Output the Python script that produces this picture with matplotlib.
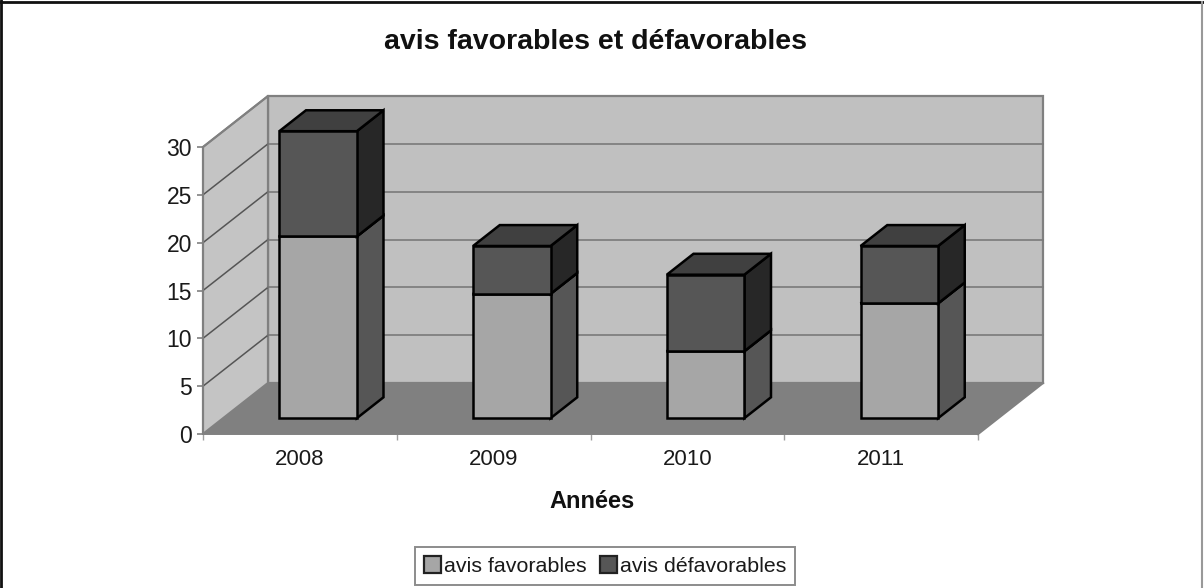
import matplotlib
matplotlib.use("Agg")
from matplotlib import pyplot as plt
from matplotlib.patches import Polygon, Patch

plt.rcParams['font.family'] = ['Liberation Sans', 'DejaVu Sans']

annees = ['2008', '2009', '2010', '2011']
favorables = [19, 13, 7, 12]
defavorables = [11, 5, 8, 6]
graduations = [0, 5, 10, 15, 20, 25, 30]

# pseudo 3D: a point (x, y, d) is shifted up and right with depth d (0 to 1)
decalX = 0.3355
decalY = 5.33
largeur = 0.40
profAvant = 0.31
profArriere = 0.72
ymax = 30
ncat = len(annees)

gris = '#808080'
coulFav = '#a6a6a6'
coulDef = '#565656'
coulDefHaut = '#404040'
coulDefCote = '#272727'
coulFavCote = '#565656'
noirTexte = '#1a1a1a'


def proj(x, y, d):
    return (x + d*decalX, y + d*decalY)


def face(ax, pts, couleur, bord, lw, z):
    ax.add_patch(Polygon([proj(*p) for p in pts], closed=True, facecolor=couleur,
                         edgecolor=bord, linewidth=lw, zorder=z, clip_on=False,
                         joinstyle='miter'))


def bloc(ax, x0, x1, y0, y1, avant, cote, z):
    # front, right side and top of one stacked block
    a, b = profAvant, profArriere
    face(ax, [(x1, y0, a), (x1, y0, b), (x1, y1, b), (x1, y1, a)], cote, 'black', 1.8, z)
    face(ax, [(x0, y1, a), (x1, y1, a), (x1, y1, b), (x0, y1, b)], coulDefHaut, 'black', 1.8, z)
    face(ax, [(x0, y0, a), (x1, y0, a), (x1, y1, a), (x0, y1, a)], avant, 'black', 1.8, z+1)


fig = plt.figure(figsize=(12.04, 5.88), dpi=100)
W, H = 1204.0, 588.0
ax = fig.add_axes([203/W, 1-434/H, 775/W, 287/H])
ax.set_xlim(0, ncat)
ax.set_ylim(0, ymax)
ax.patch.set_visible(False)

# floor, back wall, side wall
face(ax, [(0, 0, 0), (ncat, 0, 0), (ncat, 0, 1), (0, 0, 1)], gris, 'none', 0, 1)
face(ax, [(0, 0, 1), (ncat, 0, 1), (ncat, ymax, 1), (0, ymax, 1)], '#c0c0c0', gris, 1.6, 2)
face(ax, [(0, 0, 0), (0, 0, 1), (0, ymax, 1), (0, ymax, 0)], '#c4c4c4', gris, 1.6, 2)
ax.plot(*zip(proj(ncat, 0, 0), proj(ncat, 0, 1)), color=gris, lw=1.6, zorder=2, clip_on=False)

for g in graduations[1:-1]:
    ax.plot(*zip(proj(0, g, 0), proj(0, g, 1)), color='#555555', lw=1.1, zorder=3, clip_on=False)
    ax.plot(*zip(proj(0, g, 1), proj(ncat, g, 1)), color='#7a7a7a', lw=1.2, zorder=3, clip_on=False)
ax.plot(*zip(proj(0, ymax, 0), proj(0, ymax, 1)), color=gris, lw=1.3, zorder=3, clip_on=False)

for i in range(ncat):
    x0 = i + 0.5 - largeur/2 - 0.01
    x1 = x0 + largeur
    bloc(ax, x0, x1, 0, favorables[i], coulFav, coulFavCote, 10)
    bloc(ax, x0, x1, favorables[i], favorables[i] + defavorables[i], coulDef, coulDefCote, 12)

for cote in ['top', 'right']:
    ax.spines[cote].set_visible(False)
for cote in ['left', 'bottom']:
    ax.spines[cote].set_color(gris)
    ax.spines[cote].set_linewidth(1.4)
    ax.spines[cote].set_zorder(5)

ax.set_yticks(graduations)
ax.tick_params(axis='y', labelsize=16.5, length=4, width=1.2, color=gris, pad=4, labelcolor=noirTexte)
ax.set_xticks(range(ncat + 1))
ax.set_xticks([i + 0.5 for i in range(ncat)], minor=True)
ax.set_xticklabels([], minor=False)
ax.set_xticklabels(annees, minor=True)
ax.tick_params(axis='x', which='major', length=4, width=1, color='#a0a0a0')
ax.tick_params(axis='x', which='minor', length=0, labelsize=16, pad=11, labelcolor=noirTexte)

fig.text(596/W, 1-42/H, 'avis favorables et défavorables', fontsize=20.5, fontweight='bold',
         ha='center', va='center', color='#111111')
fig.text(592/W, 1-501/H, 'Années', fontsize=17, fontweight='bold', ha='center', va='center',
         color='#111111')

poignees = [Patch(facecolor=coulFav, edgecolor='#222222', linewidth=1.6),
            Patch(facecolor=coulDef, edgecolor='#222222', linewidth=1.6)]
leg = fig.legend(poignees, ['avis favorables', 'avis défavorables'], ncol=2, fontsize=15.4,
                 loc='center', bbox_to_anchor=(605/W, 1-566/H), fancybox=False,
                 edgecolor='#8c8c8c', framealpha=1, handlelength=0.8, handleheight=0.8,
                 handletextpad=0.15, columnspacing=0.6, borderpad=0.42, borderaxespad=0,
                 labelcolor=noirTexte)
leg.get_frame().set_linewidth(1.4)

# outer frame of the chart area
fig.add_artist(plt.Line2D([0, 1], [1-2/H, 1-2/H], color='#111111', lw=2))
fig.add_artist(plt.Line2D([1/W, 1/W], [0, 1], color='#111111', lw=2))
fig.add_artist(plt.Line2D([1202/W, 1202/W], [0, 1-2/H], color='#999999', lw=1.5))

fig.savefig('out.png', dpi=100)
